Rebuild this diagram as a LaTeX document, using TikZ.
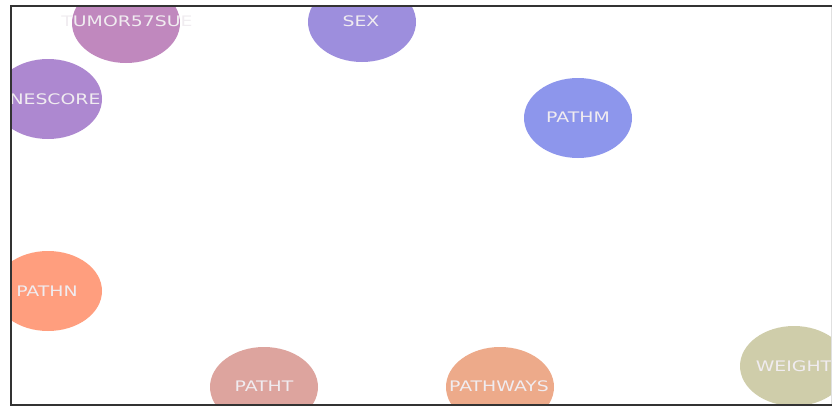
\documentclass[tikz,border=0pt]{standalone}
\usepackage{fontspec}
\usetikzlibrary{shapes.geometric}
\newfontfamily\lblfont[FakeStretch=1.3]{DejaVu Sans}
\definecolor{cTumor}{HTML}{C088BE}
\definecolor{cSex}{HTML}{9D8EDD}
\definecolor{cGene}{HTML}{AD88D0}
\definecolor{cPathm}{HTML}{8D96EC}
\definecolor{cPathn}{HTML}{FF9E7E}
\definecolor{cPatht}{HTML}{DDA49E}
\definecolor{cPathw}{HTML}{EDAA8A}
\definecolor{cWeight}{HTML}{CFCDAA}
\definecolor{cText}{HTML}{F0ECF0}
\definecolor{cFrame}{HTML}{333333}
\tikzset{
  blob/.style={ellipse, minimum width=108pt, minimum height=80pt, inner sep=0pt},
  lbl/.style={inner sep=0pt, text=cText, font=\lblfont\fontsize{14.5}{14.5}\selectfont},
  frame/.style={draw=cFrame, line width=1.5pt},
  edge/.style={draw=black!12, line width=0.8pt}
}
\begin{document}
\begin{tikzpicture}[x=1pt,y=-1pt]
\useasboundingbox (0,0) rectangle (832,407);
\begin{scope}
\clip (11,6) rectangle (831.5,405);
\node[blob, fill=cTumor] (tumor) at (126,23) {};
\node[lbl] (tumorlbl) at (127,21) {TUMOR57SUE};
\node[blob, fill=cSex] (sex) at (362,22) {};
\node[lbl] (sexlbl) at (361,21) {SEX};
\node[blob, fill=cGene] (gene) at (48,99) {};
\node[lbl] (genelbl) at (55,99) {NESCORE};
\node[blob, fill=cPathm] (pathm) at (578,118) {};
\node[lbl] (pathmlbl) at (578,117) {PATHM};
\node[blob, fill=cPathn] (pathn) at (48,291) {};
\node[lbl] (pathnlbl) at (47,291) {PATHN};
\node[blob, fill=cPatht] (patht) at (264,387) {};
\node[lbl] (pathtlbl) at (264,386) {PATHT};
\node[blob, fill=cPathw] (pathw) at (500,387) {};
\node[lbl] (pathwlbl) at (499,386) {PATHWAYS};
\node[blob, fill=cWeight] (weight) at (794,366) {};
\node[lbl] (weightlbl) at (794,366) {WEIGHT};
\end{scope}
\coordinate (tl) at (11,6);
\coordinate (tr) at (831.5,6);
\coordinate (bl) at (11,405);
\coordinate (br) at (831.5,405);
\draw[edge] (tr) -- (br);
\draw[frame] (tr) -- (tl) -- (bl) -- (br);
\end{tikzpicture}
\end{document}
